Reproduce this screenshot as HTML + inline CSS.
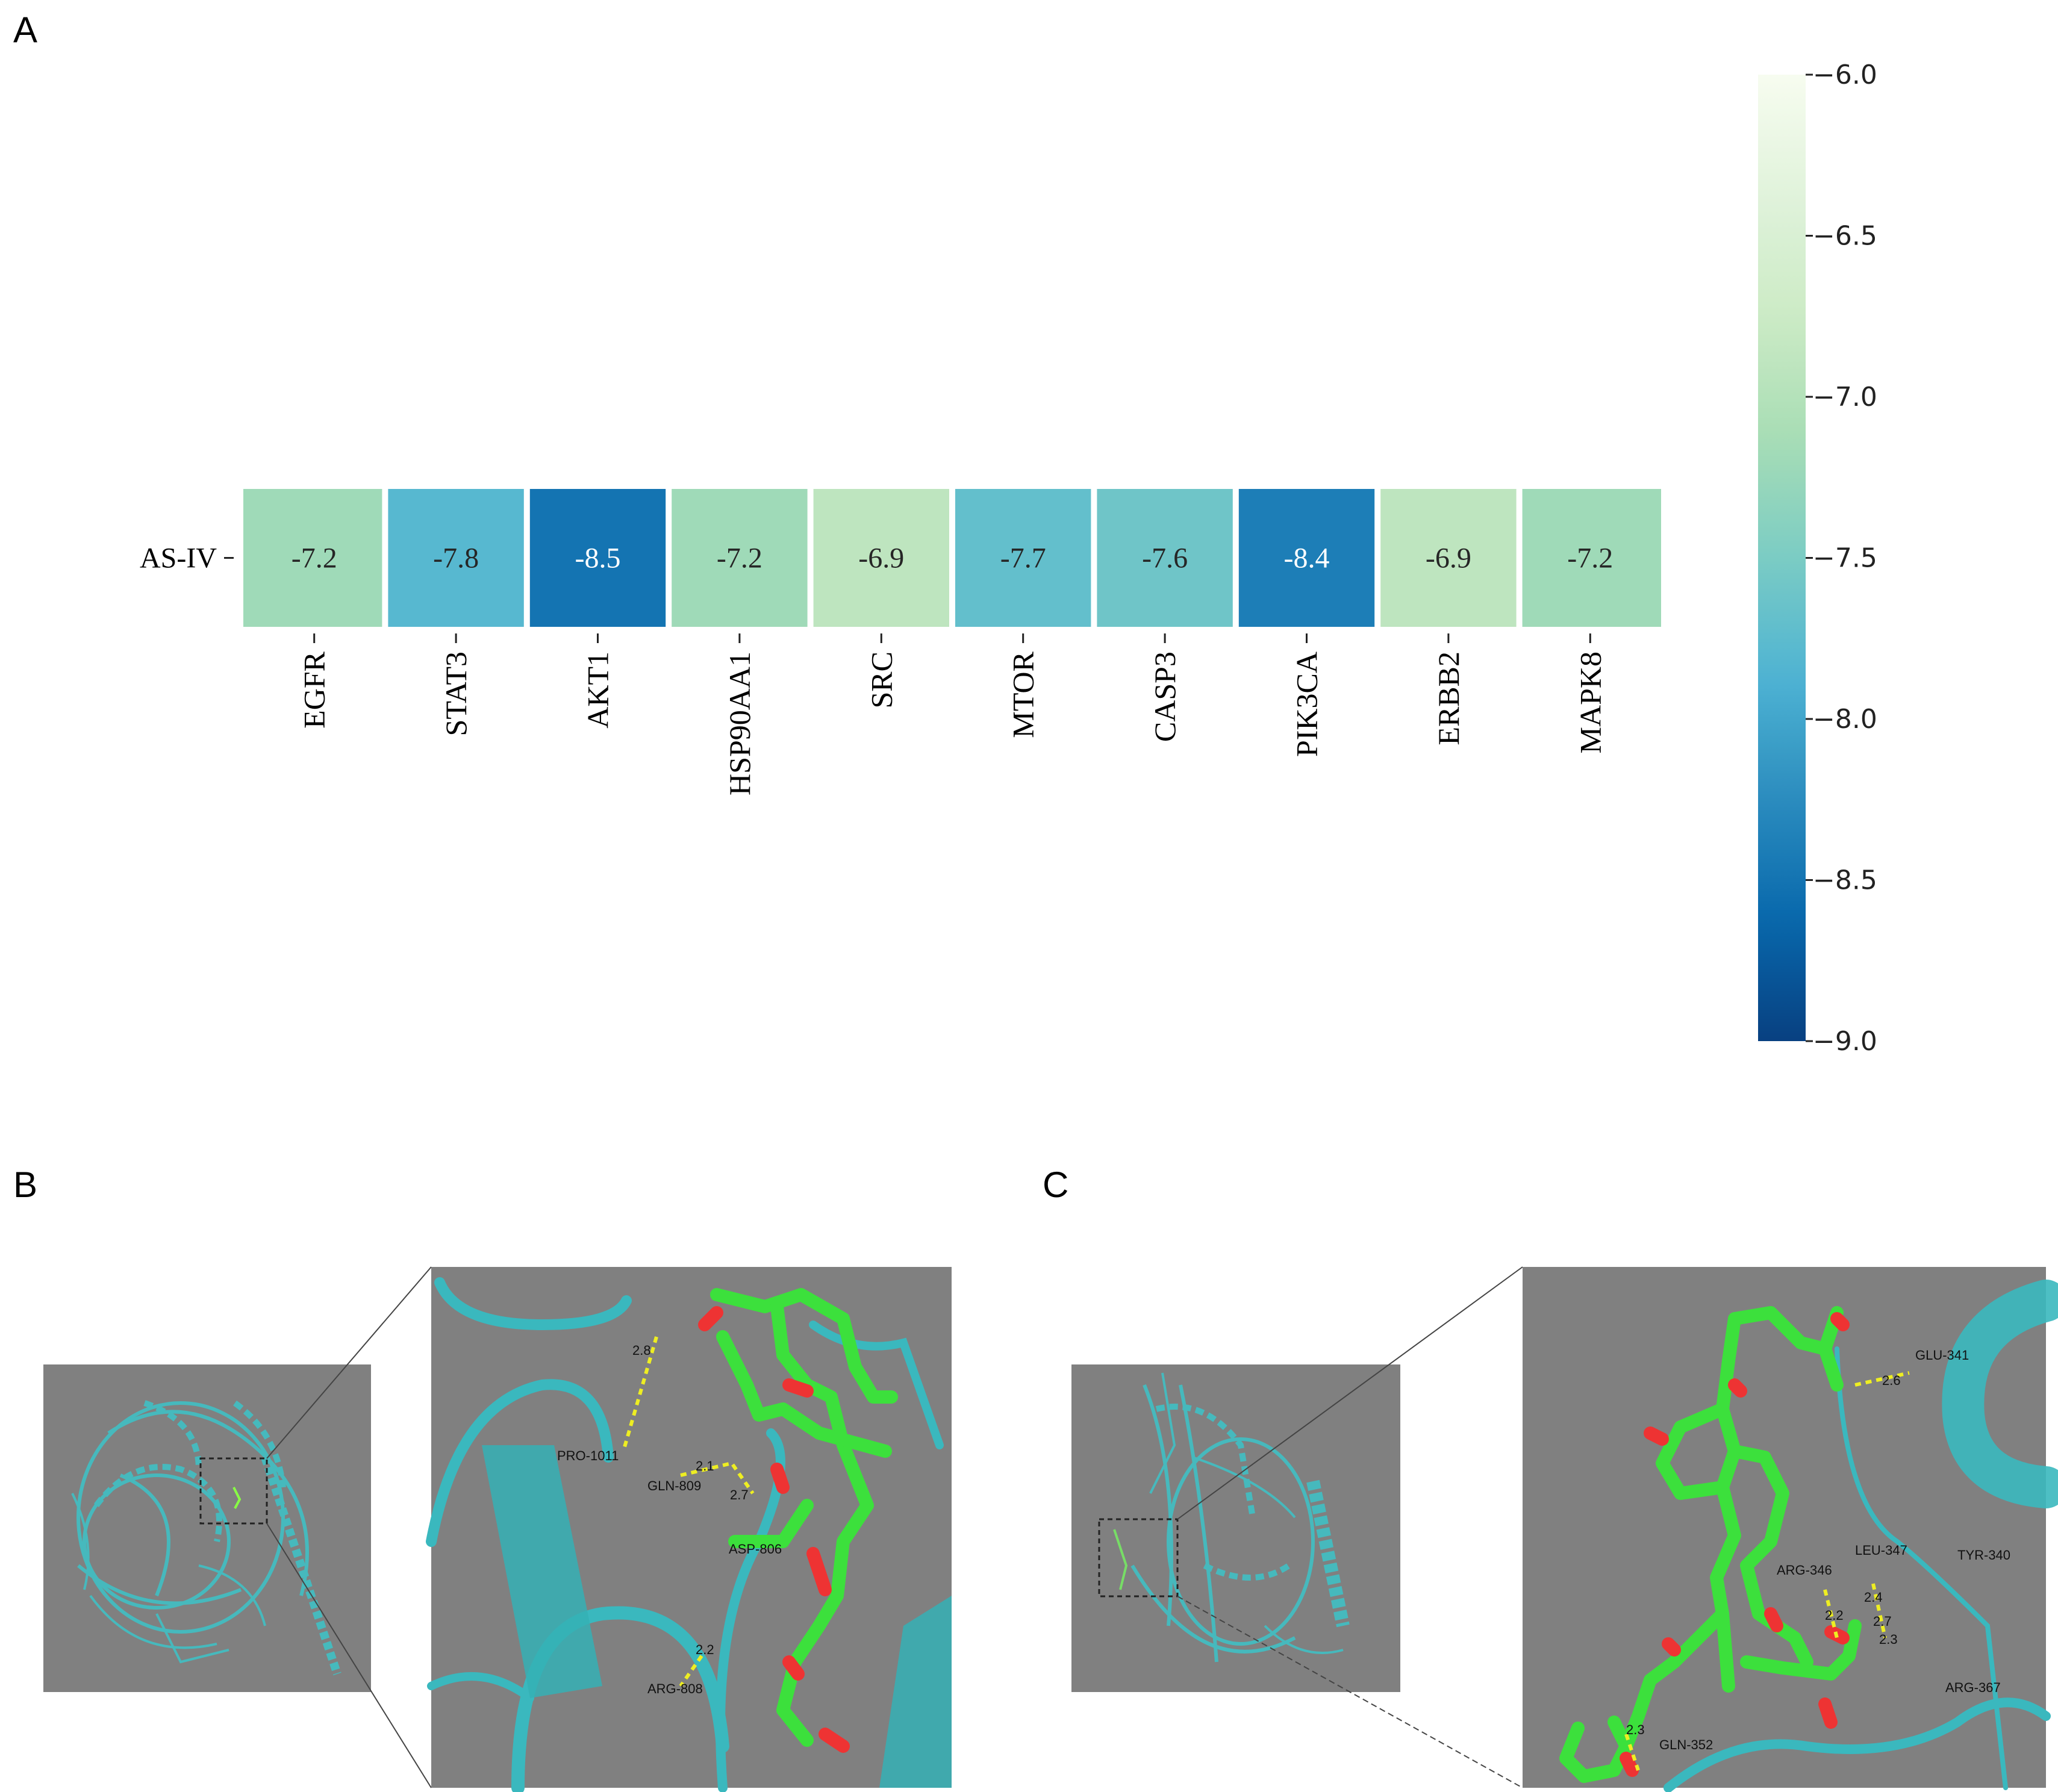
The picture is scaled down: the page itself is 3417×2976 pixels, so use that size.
<!DOCTYPE html>
<html><head><meta charset="utf-8"><style>
html,body{margin:0;padding:0;background:#fff;}
svg{display:block;}
</style></head><body>
<svg id="fig" width="3417" height="2976" viewBox="0 0 3417 2976" xmlns="http://www.w3.org/2000/svg" font-family="Liberation Serif, serif">
<text x="22" y="70" font-family="Liberation Sans, sans-serif" font-size="60">A</text>
<text x="22" y="1988" font-family="Liberation Sans, sans-serif" font-size="60">B</text>
<text x="1731" y="1988" font-family="Liberation Sans, sans-serif" font-size="60">C</text>
<g id="heat"></g>
<g id="cbar"></g>

<!-- Panel B -->
<g>
  <rect x="72" y="2266" width="544" height="544" fill="#808080"/>
  <g stroke="#3cc4c8" fill="none" stroke-width="6" opacity="0.85">
    <ellipse cx="300" cy="2520" rx="170" ry="190"/>
    <ellipse cx="260" cy="2560" rx="120" ry="110"/>
    <path d="M180 2380 Q300 2300 420 2400 T500 2650"/>
    <path d="M440 2420 L560 2780" stroke-width="14" stroke-dasharray="12 6"/>
    <path d="M130 2600 Q250 2700 400 2640"/>
    <path d="M200 2450 Q320 2500 260 2650"/>
    <path d="M160 2500 Q220 2420 300 2440 Q380 2470 360 2560" stroke-width="10" stroke-dasharray="14 8"/>
    <path d="M240 2330 Q330 2360 330 2440" stroke-width="10" stroke-dasharray="14 8"/>
    <path d="M150 2650 Q230 2760 360 2730" stroke-width="4"/>
    <path d="M330 2600 Q420 2620 440 2700" stroke-width="4"/>
    <path d="M120 2480 Q160 2560 140 2640" stroke-width="4"/>
    <path d="M260 2680 L300 2760 L380 2740" stroke-width="4"/>
    <path d="M390 2330 Q460 2380 470 2470" stroke-width="10" stroke-dasharray="14 8"/>
  </g>
  <rect x="333" y="2422" width="110" height="108" fill="none" stroke="#222" stroke-width="3" stroke-dasharray="8 6"/>
  <path d="M388 2470 l10 20 l-8 15" stroke="#8f4" stroke-width="4" fill="none"/>
  <line x1="443" y1="2422" x2="716" y2="2104" stroke="#444" stroke-width="2"/>
  <line x1="443" y1="2530" x2="716" y2="2969" stroke="#444" stroke-width="2"/>
  <rect x="716" y="2104" width="864" height="865" fill="#808080"/>
  <g stroke="#3ab8be" fill="none" stroke-linecap="round">
    <path d="M730 2130 Q760 2200 900 2200 Q1020 2200 1040 2160" stroke-width="18"/>
    <path d="M716 2560 Q760 2330 900 2300 Q1000 2290 1010 2420" stroke-width="18"/>
    <path d="M860 2969 Q860 2700 1000 2680 Q1180 2660 1200 2900" stroke-width="22"/>
    <path d="M1200 2969 Q1180 2700 1260 2560 Q1320 2420 1280 2380" stroke-width="16"/>
    <path d="M1350 2200 Q1420 2250 1500 2230 L1560 2400" stroke-width="14"/>
    <path d="M716 2800 Q800 2760 880 2820" stroke-width="14"/>
  </g>
  <path d="M800 2400 L920 2400 L1000 2800 L880 2820 Z" fill="#35b0b5" opacity="0.85"/>
  <path d="M1500 2700 L1580 2650 L1580 2969 L1460 2969 Z" fill="#35b0b5" opacity="0.85"/>
  <g stroke="#3ce03c" stroke-width="22" fill="none" stroke-linejoin="round" stroke-linecap="round">
    <path d="M1190 2150 L1270 2170 L1330 2150 L1400 2190 L1420 2270 L1450 2320 L1480 2320"/>
    <path d="M1290 2170 L1300 2250 L1340 2300 L1380 2320 L1400 2400 L1440 2500 L1400 2560 L1390 2650 L1360 2700 L1320 2760 L1300 2840 L1340 2890"/>
    <path d="M1200 2220 L1240 2300 L1260 2350 L1300 2340 L1360 2380 L1470 2410"/>
    <path d="M1340 2500 L1300 2560 L1220 2560"/>
  </g>
  <g stroke="#e33" stroke-width="22" fill="none" stroke-linecap="round">
    <path d="M1170 2200 L1190 2180"/><path d="M1310 2300 L1340 2310"/><path d="M1290 2440 L1300 2470"/><path d="M1350 2580 L1370 2640"/><path d="M1310 2760 L1325 2780"/><path d="M1370 2880 L1400 2900"/>
  </g>
  <g stroke="#ee2" stroke-width="6" stroke-dasharray="10 8" fill="none">
    <path d="M1090 2220 L1035 2410"/><path d="M1130 2450 L1215 2430 L1250 2480"/><path d="M1165 2750 L1130 2800"/>
  </g>
  <g font-family="Liberation Sans, sans-serif" font-size="22" fill="#111">
    <text x="1050" y="2250">2.8</text><text x="925" y="2425">PRO-1011</text><text x="1075" y="2475">GLN-809</text>
    <text x="1155" y="2442">2.1</text><text x="1212" y="2490">2.7</text><text x="1210" y="2580">ASP-806</text>
    <text x="1155" y="2747">2.2</text><text x="1075" y="2812">ARG-808</text>
  </g>
</g>

<!-- Panel C -->
<g>
  <rect x="1779" y="2266" width="546" height="544" fill="#808080"/>
  <g stroke="#3cc4c8" fill="none" stroke-width="6" opacity="0.85">
    <path d="M1900 2300 Q1960 2450 1940 2700"/>
    <path d="M1960 2300 Q2000 2500 2020 2760"/>
    <ellipse cx="2060" cy="2560" rx="120" ry="170"/>
    <path d="M2180 2460 L2230 2700" stroke-width="22" stroke-dasharray="14 6"/>
    <path d="M1880 2600 Q2000 2800 2150 2720"/>
    <path d="M1920 2340 Q2000 2320 2060 2400 L2080 2520" stroke-width="10" stroke-dasharray="14 8"/>
    <path d="M2000 2600 Q2080 2640 2140 2600" stroke-width="10" stroke-dasharray="14 8"/>
    <path d="M1930 2280 L1950 2400 L1910 2480" stroke-width="4"/>
    <path d="M2100 2700 Q2160 2760 2230 2740" stroke-width="4"/>
    <path d="M1980 2420 Q2100 2460 2150 2520" stroke-width="4"/>
  </g>
  <rect x="1825" y="2523" width="130" height="128" fill="none" stroke="#222" stroke-width="3" stroke-dasharray="8 6"/>
  <path d="M1850 2540 L1870 2600 L1860 2640" stroke="#7d6" stroke-width="4" fill="none"/>
  <line x1="1955" y1="2523" x2="2528" y2="2104" stroke="#444" stroke-width="2"/>
  <line x1="1955" y1="2651" x2="2528" y2="2969" stroke="#444" stroke-width="2" stroke-dasharray="10 6"/>
  <rect x="2528" y="2104" width="869" height="865" fill="#808080"/>
  <g stroke="#3ab8be" fill="none" stroke-linecap="round">
    <path d="M3397 2160 Q3250 2200 3260 2350 Q3270 2460 3397 2470" stroke-width="70" opacity="0.9"/>
    <path d="M2770 2969 Q2880 2880 3000 2900 Q3150 2920 3250 2860 Q3330 2800 3397 2850" stroke-width="16"/>
    <path d="M3050 2240 Q3060 2500 3150 2560 Q3200 2600 3300 2700 L3330 2969" stroke-width="8"/>
  </g>
  <g stroke="#3ce03c" stroke-width="22" fill="none" stroke-linejoin="round" stroke-linecap="round">
    <path d="M2870 2260 L2880 2190 L2940 2180 L2990 2230 L3030 2240 L3050 2180"/>
    <path d="M3030 2240 L3050 2300"/>
    <path d="M2870 2260 L2860 2340 L2790 2370 L2760 2430 L2790 2480 L2860 2470 L2880 2410 L2860 2340"/>
    <path d="M2860 2470 L2880 2550 L2850 2620 L2860 2680 L2820 2720 L2780 2760 L2740 2790 L2720 2850 L2700 2900"/>
    <path d="M2880 2410 L2930 2420 L2960 2480 L2940 2560 L2900 2600 L2920 2680 L2980 2720 L3000 2760"/>
    <path d="M2860 2680 L2870 2800"/><path d="M2900 2760 L2960 2770 L3040 2780 L3070 2750 L3080 2700"/>
    <path d="M2620 2870 L2600 2920 L2630 2950 L2680 2940 L2700 2900 L2680 2860"/>
  </g>
  <g stroke="#e33" stroke-width="22" fill="none" stroke-linecap="round">
    <path d="M3050 2190 L3060 2200"/><path d="M2880 2300 L2890 2310"/><path d="M2740 2380 L2760 2390"/><path d="M2770 2730 L2780 2740"/><path d="M2940 2680 L2950 2700"/><path d="M3040 2710 L3060 2720"/><path d="M3030 2830 L3040 2860"/><path d="M2700 2920 L2710 2940"/>
  </g>
  <g stroke="#ee2" stroke-width="6" stroke-dasharray="10 8" fill="none">
    <path d="M3080 2300 L3170 2280"/><path d="M3030 2640 L3050 2720"/><path d="M3110 2630 L3130 2720"/><path d="M2700 2880 L2720 2940"/>
  </g>
  <g font-family="Liberation Sans, sans-serif" font-size="22" fill="#111">
    <text x="3180" y="2258">GLU-341</text><text x="3125" y="2300">2.6</text>
    <text x="3080" y="2582">LEU-347</text><text x="3250" y="2590">TYR-340</text><text x="2950" y="2615">ARG-346</text>
    <text x="3095" y="2660">2.4</text><text x="3030" y="2690">2.2</text><text x="3110" y="2700">2.7</text><text x="3120" y="2730">2.3</text>
    <text x="3230" y="2810">ARG-367</text><text x="2700" y="2880">2.3</text><text x="2755" y="2905">GLN-352</text>
  </g>
</g>
</svg>
<script>
var genes = ["EGFR","STAT3","AKT1","HSP90AA1","SRC","MTOR","CASP3","PIK3CA","ERBB2","MAPK8"];
var scores = [-7.2,-7.8,-8.5,-7.2,-6.9,-7.7,-7.6,-8.4,-6.9,-7.2];
var rowLabels = ["AS-IV"];
var cbarTicks = [-6.0,-6.5,-7.0,-7.5,-8.0,-8.5,-9.0];
var vmin = -9, vmax = -6;
var stops = ["#f7fcf0","#e0f3db","#ccebc5","#a8ddb5","#7bccc4","#4eb3d3","#2b8cbe","#0868ac","#084081"];
function hex(h){return [parseInt(h.substr(1,2),16),parseInt(h.substr(3,2),16),parseInt(h.substr(5,2),16)];}
function color(v){
  var t=(vmax-v)/(vmax-vmin); t=Math.max(0,Math.min(1,t));
  var p=t*(stops.length-1), i=Math.min(Math.floor(p),stops.length-2), f=p-i;
  var a=hex(stops[i]), b=hex(stops[i+1]);
  return "rgb("+a.map(function(x,k){return Math.round(x+(b[k]-x)*f);}).join(",")+")";
}
var NS="http://www.w3.org/2000/svg";
function mk(tag,attrs,parent){var e=document.createElementNS(NS,tag);for(var k in attrs)e.setAttribute(k,attrs[k]);parent.appendChild(e);return e;}
var heat=document.getElementById("heat");
var x0=404,x1=2758,y0=812,y1=1041,pitch=(x1-x0)/genes.length,gap=10;
function xs(i){return x0+i*pitch;}
var yc=(y0+y1)/2;
var rl=mk("text",{x:360,y:yc+16,"font-size":48,"text-anchor":"end"},heat);


rl.textContent=rowLabels[0];
mk("line",{x1:372,x2:388,y1:yc,y2:yc,stroke:"#222","stroke-width":3},heat);
genes.forEach(function(g,i){
  var c=mk("rect",{x:xs(i)+(i?gap/2:0),y:y0,width:pitch-(i?gap/2:0)-(i<genes.length-1?gap/2:0),height:y1-y0,fill:color(scores[i])},heat);
  
  
  var t=mk("text",{x:xs(i)+pitch/2,y:yc+16,"font-size":48,"text-anchor":"middle",fill:(scores[i]<-8.2?"#ffffff":"#262626")},heat);
  
  
  t.textContent=scores[i].toFixed(1);
  var cx=xs(i)+pitch/2;
  mk("line",{x1:cx,x2:cx,y1:1052,y2:1068,stroke:"#222","stroke-width":3},heat);
  var l=mk("text",{x:0,y:0,"font-size":50,"text-anchor":"end",transform:"translate("+(cx+17)+",1082) rotate(-90)"},heat);
  
  
  l.textContent=g;
});
var cb=document.getElementById("cbar");
var cx0=2919,cw=79,cy0=124,cy1=1729;
function ys(v){return cy0+(vmax-v)/(vmax-vmin)*(cy1-cy0);}
var defs=mk("defs",{},cb);
var lg=mk("linearGradient",{id:"gnbu",x1:0,y1:0,x2:0,y2:1},defs);
for(var k=0;k<=30;k++){var v=vmax-(vmax-vmin)*k/30;mk("stop",{offset:(k/30),"stop-color":color(v)},lg);}
var bar=mk("rect",{x:cx0,y:cy0,width:cw,height:cy1-cy0,fill:"url(#gnbu)"},cb);


cbarTicks.forEach(function(v){
  var y=ys(v);
  mk("line",{x1:cx0+cw,x2:cx0+cw+12,y1:y,y2:y,stroke:"#222","stroke-width":3},cb);
  var t=mk("text",{x:3010,y:y+15,"font-size":44,fill:"#222","font-family":"DejaVu Sans, sans-serif"},cb);
  
  
  t.textContent="\u2212"+Math.abs(v).toFixed(1);
});
</script>
</body></html>
